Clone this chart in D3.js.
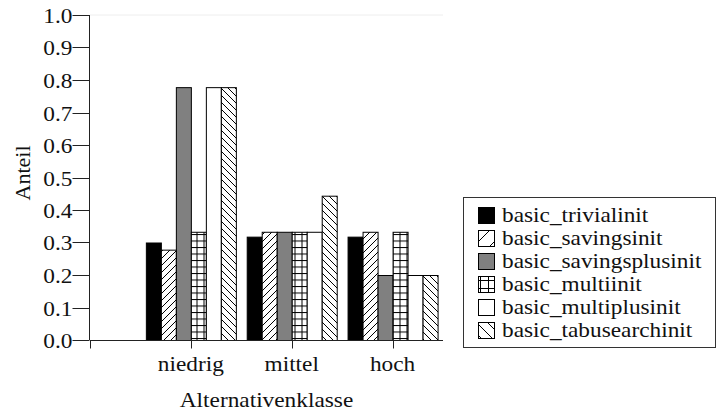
<!DOCTYPE html>
<html>
<head>
<meta charset="utf-8">
<script src="https://cdn.jsdelivr.net/npm/d3@7"></script>
<style>
  html, body { margin: 0; padding: 0; background: #fff; }
  svg { display: block; }
  text { font-family: "Liberation Serif", "Times New Roman", serif; fill: #111; }
</style>
</head>
<body>
<svg id="chart" width="717" height="412"></svg>
<script>
// Share of best results per alternative class and initialisation method
const categories = ["niedrig", "mittel", "hoch"];
const seriesNames = ["basic_trivialinit", "basic_savingsinit", "basic_savingsplusinit",
                     "basic_multiinit", "basic_multiplusinit", "basic_tabusearchinit"];
const trivialinit     = [0.300, 0.318, 0.318];
const savingsinit     = [0.278, 0.333, 0.333];
const savingsplusinit = [0.778, 0.333, 0.200];
const multiinit       = [0.333, 0.333, 0.333];
const multiplusinit   = [0.778, 0.333, 0.200];
const tabusearchinit  = [0.778, 0.444, 0.200];
const yTicks = [0, 0.1, 0.2, 0.3, 0.4, 0.5, 0.6, 0.7, 0.8, 0.9, 1.0];

const seriesValues = [trivialinit, savingsinit, savingsplusinit, multiinit, multiplusinit, tabusearchinit];
const fills = ["#000", "url(#hatchFwd)", "#808080", "url(#grid)", "#fff", "url(#hatchBack)"];
const legendFills = ["#000", "url(#lgFwd)", "#808080", "url(#lgGrid)", "#fff", "url(#lgBack)"];

const FS = 22, SX = 1.06;
const svg = d3.select("#chart");
const x = d3.scaleLinear().domain([0, 3.5]).range([90, 443]);
const y = d3.scaleLinear().domain([0, 1]).range([340, 15]);
const barW = 15;

// hatch patterns
const defs = svg.append("defs");
function diag(id, size, back) {
  const p = defs.append("pattern").attr("id", id).attr("patternUnits", "userSpaceOnUse")
    .attr("width", size).attr("height", size);
  p.append("rect").attr("width", size).attr("height", size).attr("fill", "#fff");
  const pts = back
    ? [[0, 0, size, size], [-size, 0, 0, size], [size, 0, 2 * size, size]]
    : [[0, size, size, 0], [-size, size, 0, 0], [size, size, 2 * size, 0]];
  pts.forEach(d => p.append("line").attr("x1", d[0]).attr("y1", d[1]).attr("x2", d[2]).attr("y2", d[3])
    .attr("stroke", "#000").attr("stroke-width", 1));
}
function grid(id, w, h, ox, oy) {
  const p = defs.append("pattern").attr("id", id).attr("patternUnits", "userSpaceOnUse")
    .attr("width", w).attr("height", h).attr("x", ox).attr("y", oy);
  p.append("rect").attr("width", w).attr("height", h).attr("fill", "#fff");
  p.append("line").attr("x1", 0.5).attr("y1", 0).attr("x2", 0.5).attr("y2", h).attr("stroke", "#000");
  p.append("line").attr("x1", 0).attr("y1", 0.5).attr("x2", w).attr("y2", 0.5).attr("stroke", "#000");
}
diag("hatchFwd", 7, false);
diag("hatchBack", 7, true);
grid("grid", 7, 6.5, 0.5, 0);
diag("lgFwd", 16, false);
diag("lgBack", 11, true);
grid("lgGrid", 8, 8, 0, 0);

// faint frame line at the top of the plot area
svg.append("line").attr("x1", 90).attr("x2", 443).attr("y1", y(1)).attr("y2", y(1))
  .attr("stroke", "#eee");

// bars
categories.forEach((c, ci) => {
  const cx = x(ci + 1);
  seriesValues.forEach((vals, si) => {
    const x0 = cx - 3 * barW + si * barW;
    svg.append("rect")
      .attr("x", x0 + 0.5).attr("y", y(vals[ci]) + 0.5)
      .attr("width", barW).attr("height", y(0) - y(vals[ci]))
      .attr("fill", fills[si]).attr("stroke", "#000").attr("stroke-width", 1);
  });
});

// y axis
const yAxis = svg.append("g").attr("transform", "translate(89.5,0)");
yAxis.append("line").attr("x1", 0).attr("x2", 0).attr("y1", y(1)).attr("y2", y(0)).attr("stroke", "#222");
yTicks.forEach(t => {
  const g = yAxis.append("g").attr("transform", `translate(0,${Math.round(y(t)) + 0.5})`);
  g.append("line").attr("x1", -17).attr("x2", 0).attr("stroke", "#222");
  g.append("text").attr("transform", `translate(-17,0) scale(${SX},1)`)
    .attr("text-anchor", "end").attr("dy", "0.36em").attr("font-size", FS)
    .text(t.toFixed(1));
});

// x axis
const xAxis = svg.append("g").attr("transform", `translate(0,${y(0) + 0.5})`);
xAxis.append("line").attr("x1", x(0)).attr("x2", x(3.5)).attr("stroke", "#222");
[0, 1, 2, 3].forEach(i => {
  xAxis.append("line").attr("x1", Math.round(x(i)) + 0.5).attr("x2", Math.round(x(i)) + 0.5)
    .attr("y1", 0).attr("y2", 8).attr("stroke", "#222");
});
categories.forEach((c, ci) => {
  xAxis.append("text").attr("transform", `translate(${x(ci + 1)},30) scale(${SX},1)`)
    .attr("text-anchor", "middle").attr("font-size", FS).text(c);
});

// axis titles
svg.append("text").attr("transform", `translate(${(x(0) + x(3.5)) / 2},407) scale(${SX},1)`)
  .attr("text-anchor", "middle").attr("font-size", FS).text("Alternativenklasse");
svg.append("text").attr("transform", "translate(30,173) rotate(-90)")
  .attr("text-anchor", "middle").attr("font-size", FS).text("Anteil");

// legend
const lg = svg.append("g");
lg.append("rect").attr("x", 463.5).attr("y", 197.5).attr("width", 252).attr("height", 150)
  .attr("fill", "#fff").attr("stroke", "#333");
seriesNames.forEach((n, i) => {
  const ry = 207 + i * 23;
  lg.append("rect").attr("x", 478.5).attr("y", ry + 0.5).attr("width", 16).attr("height", 16)
    .attr("fill", legendFills[i]).attr("stroke", "#000");
  lg.append("text").attr("transform", `translate(502,${ry + 15}) scale(${SX},1)`)
    .attr("font-size", FS).text(n);
});
</script>
</body>
</html>
